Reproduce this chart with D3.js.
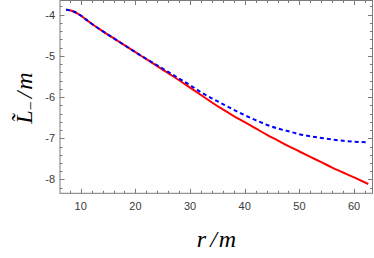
<!DOCTYPE html>
<html>
<head>
<meta charset="utf-8">
<script src="https://cdn.jsdelivr.net/npm/d3@7"></script>
<style>
	body { margin: 0; background: #fff; }
	svg { display: block; }
</style>
</head>
<body>
<svg id="chart" width="374" height="258"></svg>
<script>

var rValues = [7.3, 8, 9, 10, 11, 12, 13, 14, 16, 18, 20, 22, 24, 26, 28, 30, 32, 34, 36, 38, 40, 42, 44, 46, 48, 50, 52, 54, 56, 58, 60, 62.6];

var solidL = [-3.88, -3.89, -3.94, -4.02, -4.12, -4.22, -4.31, -4.40, -4.57, -4.74, -4.91, -5.08, -5.25, -5.42, -5.59, -5.77, -5.95, -6.13, -6.30, -6.46, -6.61, -6.76, -6.91, -7.05, -7.19, -7.32, -7.45, -7.58, -7.71, -7.83, -7.95, -8.11];

var dashedL = [-3.88, -3.89, -3.94, -4.02, -4.12, -4.22, -4.31, -4.40, -4.57, -4.74, -4.91, -5.07, -5.23, -5.39, -5.55, -5.71, -5.88, -6.03, -6.17, -6.31, -6.44, -6.56, -6.67, -6.76, -6.83, -6.90, -6.95, -6.99, -7.03, -7.06, -7.08, -7.10];

var xTicks = [10, 20, 30, 40, 50, 60];
var yTicks = [-4, -5, -6, -7, -8];


(function()
{
	var svg = d3.select("#chart");

	var left = 60, right = 372.5, top = 0.5, bottom = 193.3;

	var x = d3.scaleLinear().domain([6.21, 63.37]).range([left, right]);
	var y = d3.scaleLinear().domain([-3.655, -8.335]).range([top, bottom]);

	var frameColor = "#7a7a7a";
	var labelColor = "#3a3a3a";

	// minor ticks every 2 on x, every 0.2 on y
	var xMinor = d3.range(8, 64, 2).filter(function(v) { return v % 10 != 0; });
	var yMinor = d3.range(-36, -84, -2).map(function(v) { return v / 10; }).filter(function(v) { return Math.round(v * 10) % 10 != 0; });

	var ticks = svg.append("g")
		.attr("stroke", frameColor)
		.attr("stroke-width", 1);

	function vTicks(vals, len)
	{
		vals.forEach(function(v)
		{
			var px = Math.round(x(v)) + 0.5;
			ticks.append("line").attr("x1", px).attr("x2", px).attr("y1", bottom).attr("y2", bottom - len);
			ticks.append("line").attr("x1", px).attr("x2", px).attr("y1", top).attr("y2", top + len);
		});
	}

	function hTicks(vals, len)
	{
		vals.forEach(function(v)
		{
			var py = Math.round(y(v)) + 0.5;
			ticks.append("line").attr("y1", py).attr("y2", py).attr("x1", left).attr("x2", left + len);
			ticks.append("line").attr("y1", py).attr("y2", py).attr("x1", right).attr("x2", right - len);
		});
	}

	vTicks(xTicks, 4.5);
	vTicks(xMinor, 2.5);
	hTicks(yTicks, 4.5);
	hTicks(yMinor, 2.5);

	// curves
	var line = d3.line()
		.x(function(d) { return x(d[0]); })
		.y(function(d) { return y(d[1]); })
		.curve(d3.curveMonotoneX);

	var plot = svg.append("g");

	plot.append("path")
		.datum(rValues.map(function(r, i) { return [r, solidL[i]]; }))
		.attr("d", line)
		.attr("fill", "none")
		.attr("stroke", "#ff0000")
		.attr("stroke-width", 2);

	plot.append("path")
		.datum(rValues.map(function(r, i) { return [r, dashedL[i]]; }))
		.attr("d", line)
		.attr("fill", "none")
		.attr("stroke", "#0000ff")
		.attr("stroke-width", 2)
		.attr("stroke-dasharray", "4,3");

	// frame
	svg.append("rect")
		.attr("x", left)
		.attr("y", top)
		.attr("width", right - left)
		.attr("height", bottom - top)
		.attr("fill", "none")
		.attr("stroke", frameColor)
		.attr("stroke-width", 1);

	// tick labels
	svg.append("g").selectAll("text")
		.data(xTicks)
		.enter().append("text")
		.attr("x", function(d) { return x(d); })
		.attr("y", bottom + 17)
		.attr("text-anchor", "middle")
		.attr("font-family", "Liberation Sans, sans-serif")
		.attr("font-size", 11)
		.attr("fill", labelColor)
		.text(function(d) { return d; });

	svg.append("g").selectAll("text")
		.data(yTicks)
		.enter().append("text")
		.attr("x", left - 5)
		.attr("y", function(d) { return y(d) + 4; })
		.attr("text-anchor", "end")
		.attr("font-family", "Liberation Sans, sans-serif")
		.attr("font-size", 11)
		.attr("fill", labelColor)
		.text(function(d) { return "-" + Math.abs(d); });

	// axis titles
	var xTitle = svg.append("text")
		.attr("x", 216.5)
		.attr("y", 246.5)
		.attr("text-anchor", "middle")
		.attr("font-family", "Liberation Serif, serif")
		.attr("font-style", "italic")
		.attr("font-size", 24)
		.attr("fill", "#000");
	xTitle.append("tspan").text("r");
	xTitle.append("tspan").attr("dx", 4).text("/");
	xTitle.append("tspan").attr("dx", 2).text("m");

	var yTitle = svg.append("text")
		.attr("transform", "translate(32,98) rotate(-90)")
		.attr("text-anchor", "middle")
		.attr("font-family", "Liberation Serif, serif")
		.attr("font-style", "italic")
		.attr("font-size", 24)
		.attr("fill", "#000");
	yTitle.append("tspan").text("L\u0303");
	yTitle.append("tspan").attr("font-style", "normal").attr("font-size", 16).attr("dy", 4).text("\u2212");
	yTitle.append("tspan").attr("dy", -4).attr("dx", 3).text("/");
	yTitle.append("tspan").attr("dx", 2).text("m");

}());

</script>
</body>
</html>
